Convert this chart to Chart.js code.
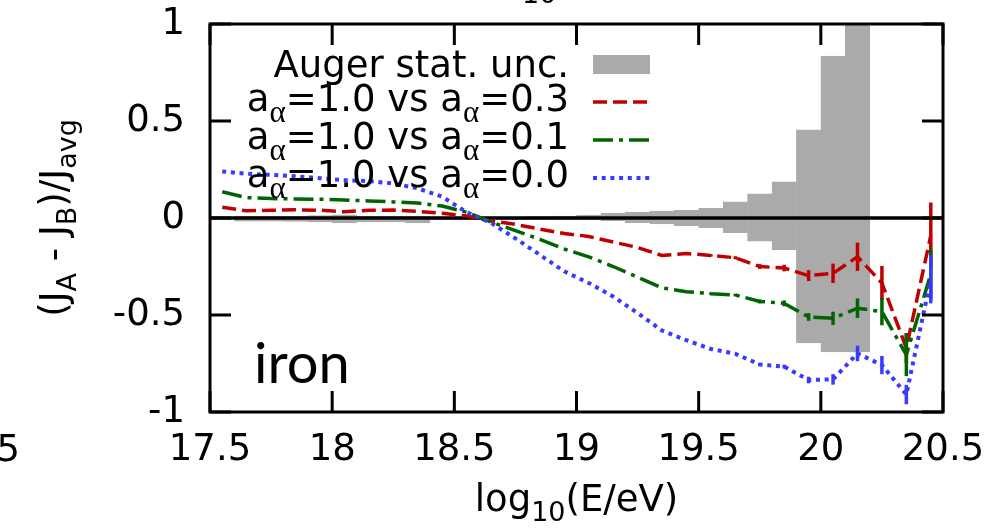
<!DOCTYPE html>
<html>
<head>
<meta charset="utf-8">
<script src="https://cdn.jsdelivr.net/npm/chart.js@4"></script>
<style>
html,body{margin:0;padding:0;background:#fff;}
#c{display:block;}
</style>
</head>
<body>
<canvas id="c" width="996" height="530"></canvas>
<script>
// ---- data ----
const energies = [17.55,17.65,17.75,17.85,17.95,18.05,18.15,18.25,18.35,18.45,
                  18.55,18.65,18.75,18.85,18.95,19.05,19.15,19.25,19.35,19.45,
                  19.55,19.65,19.75,19.85,19.95,20.05,20.15,20.25,20.35,20.45];
const diff03 = [0.055,0.037,0.040,0.042,0.040,0.032,0.040,0.041,0.034,0.024,
                0.010,-0.015,-0.033,-0.057,-0.080,-0.095,-0.124,-0.152,-0.193,-0.183,
                -0.193,-0.205,-0.250,-0.258,-0.297,-0.285,-0.200,-0.335,-0.670,-0.090];
const err03  = [0,0,0,0,0,0,0,0,0,0, 0,0,0,0,0,0,0,0,0,0,
                0.006,0.008,0.012,0.017,0.028,0.050,0.073,0.088,0.077,0.170];
const diff01 = [0.135,0.105,0.100,0.098,0.097,0.093,0.088,0.083,0.077,0.062,
                0.030,-0.020,-0.065,-0.110,-0.160,-0.200,-0.250,-0.305,-0.360,-0.380,
                -0.390,-0.397,-0.430,-0.440,-0.510,-0.517,-0.465,-0.483,-0.705,-0.289];
const err01  = [0,0,0,0,0,0,0,0,0,0, 0,0,0,0,0,0,0,0,0,0,
                0.005,0.007,0.010,0.015,0.020,0.034,0.050,0.070,0.110,0.130];
const diff00 = [0.240,0.228,0.222,0.215,0.205,0.195,0.190,0.178,0.153,0.110,
                0.030,-0.025,-0.105,-0.190,-0.275,-0.335,-0.405,-0.490,-0.580,-0.630,
                -0.675,-0.700,-0.755,-0.766,-0.835,-0.832,-0.698,-0.758,-0.910,-0.315];
const err00  = [0,0,0,0,0,0,0,0,0,0, 0,0,0,0,0,0,0,0,0,0,
                0,0,0.008,0.010,0.017,0.027,0.040,0.047,0.050,0.125];
// Auger statistical uncertainty band (bins of 0.1 in log10 E)
const augerBins = [17.55,17.65,17.75,17.85,17.95,18.05,18.15,18.25,18.35,18.45,
                   18.55,18.65,18.75,18.85,18.95,19.05,19.15,19.25,19.35,19.45,
                   19.55,19.65,19.75,19.85,19.95,20.05,20.15];
const augerHigh = [0.004,0.010,0.010,0.010,0.012,0.016,0.010,0.010,0.010,0.006,
                   0.006,0.006,0.006,0.008,0.010,0.015,0.025,0.030,0.036,0.040,
                   0.050,0.083,0.124,0.186,0.454,0.835,1.500];
const augerLow  = [-0.004,-0.016,-0.016,-0.018,-0.020,-0.026,-0.020,-0.020,-0.025,-0.008,
                   -0.008,-0.008,-0.008,-0.008,-0.010,-0.010,-0.015,-0.024,-0.031,-0.041,
                   -0.050,-0.076,-0.119,-0.165,-0.644,-0.690,-0.690];
const xTickValues = [17.5,18,18.5,19,19.5,20,20.5];
const yTickValues = [-1,-0.5,0,0.5,1];
const legendLabels = [
  [["Auger stat. unc.",0]],
  [["a",0],["α",1],["=1.0 vs a",0],["α",1],["=0.3",0]],
  [["a",0],["α",1],["=1.0 vs a",0],["α",1],["=0.1",0]],
  [["a",0],["α",1],["=1.0 vs a",0],["α",1],["=0.0",0]]
];
const panelLabel = "iron";

// ---- styles ----
const RED = '#c00000', GREEN = '#006400', BLUE = '#3a3aff', GRAY = '#aaaaaa';
const FONT = 'DejaVu Sans';
const series = [
  {label:'a=1.0 vs a=0.3', y:diff03, e:err03, color:RED,   dash:[14,6], width:3.5},
  {label:'a=1.0 vs a=0.1', y:diff01, e:err01, color:GREEN, dash:[20,6,4,6], width:3.5},
  {label:'a=1.0 vs a=0.0', y:diff00, e:err00, color:BLUE,  dash:[4,4.7], width:4}
];

Chart.defaults.font.family = FONT;
Chart.defaults.color = '#000';

const datasets = [{
  type:'bar', label:'Auger stat. unc.',
  data: augerBins.map((x,i)=>({x:x, y:[augerLow[i], augerHigh[i]]})),
  backgroundColor: GRAY, borderColor: GRAY, borderWidth: 0.8, borderSkipped:false,
  barPercentage:1.0, categoryPercentage:1.0, order:10
}];
series.forEach((s,k)=>{
  datasets.push({
    type:'line', label:s.label,
    data: energies.map((x,i)=>({x:x, y:s.y[i]})),
    borderColor:s.color, borderWidth:s.width, borderDash:s.dash, borderCapStyle:'butt',
    pointRadius:0, tension:0, fill:false, order:3-k
  });
});

function drawRich(ctx, parts, xRight, baseline, size, subSize, subDrop){
  let w = 0;
  const fonts = parts.map(p => p[1] ? subSize+'px "Liberation Serif"' : size+'px "'+FONT+'"');
  parts.forEach((p,i)=>{ ctx.font = fonts[i]; w += ctx.measureText(p[0]).width; });
  let x = xRight - w;
  ctx.textAlign='left'; ctx.textBaseline='alphabetic';
  parts.forEach((p,i)=>{
    ctx.font = fonts[i];
    ctx.fillText(p[0], x, baseline + (p[1]?subDrop:0));
    x += ctx.measureText(p[0]).width;
  });
}

const decor = {
  id:'decor',
  afterDatasetDraw(chart, args){
    if (args.index !== 0) return;
    const {ctx, chartArea:a, scales:{y}} = chart;
    ctx.save();
    ctx.strokeStyle='#000'; ctx.lineWidth=3.5;
    const y0 = y.getPixelForValue(0);
    ctx.beginPath(); ctx.moveTo(a.left,y0); ctx.lineTo(a.right,y0); ctx.stroke();
    ctx.restore();
  },
  afterDatasetsDraw(chart){
    const {ctx, chartArea:a, scales:{x,y}} = chart;
    ctx.save();
    ctx.beginPath(); ctx.rect(a.left,a.top,a.right-a.left,a.bottom-a.top); ctx.clip();
    ctx.setLineDash([]); ctx.lineCap='butt';
    series.forEach(s=>{
      ctx.strokeStyle=s.color; ctx.lineWidth=3.5;
      energies.forEach((e,i)=>{
        if (!s.e[i]) return;
        const px = x.getPixelForValue(e);
        ctx.beginPath();
        ctx.moveTo(px, y.getPixelForValue(s.y[i]-s.e[i]));
        ctx.lineTo(px, y.getPixelForValue(s.y[i]+s.e[i]));
        ctx.stroke();
      });
    });
    ctx.restore();
  },
  afterDraw(chart){
    const {ctx, chartArea:a, scales:{x,y}} = chart;
    ctx.save();
    // frame
    ctx.strokeStyle='#000'; ctx.lineWidth=3; ctx.setLineDash([]);
    ctx.strokeRect(a.left,a.top,a.right-a.left,a.bottom-a.top);
    // inward ticks, mirrored
    const TL = 21;
    ctx.beginPath();
    xTickValues.forEach(v=>{
      const px = x.getPixelForValue(v);
      ctx.moveTo(px,a.bottom); ctx.lineTo(px,a.bottom-TL);
      ctx.moveTo(px,a.top); ctx.lineTo(px,a.top+TL);
    });
    yTickValues.forEach(v=>{
      const py = y.getPixelForValue(v);
      ctx.moveTo(a.left,py); ctx.lineTo(a.left+TL,py);
      ctx.moveTo(a.right,py); ctx.lineTo(a.right-TL,py);
    });
    ctx.stroke();

    // legend
    const sx0 = 593, sx1 = 650;
    const rows = [64.5, 102, 140, 178];
    ctx.fillStyle='#000';
    drawRich(ctx, legendLabels[0], 569, 77, 37, 31, 11);
    for (let r=1;r<4;r++) drawRich(ctx, legendLabels[r], 569, rows[r]+9, 37, 31, 11);
    ctx.fillStyle=GRAY; ctx.fillRect(sx0, 55, sx1-sx0, 19);
    series.forEach((s,k)=>{
      ctx.strokeStyle=s.color; ctx.lineWidth=s.width; ctx.setLineDash(s.dash); ctx.lineCap='butt';
      ctx.beginPath(); ctx.moveTo(sx0, rows[k+1]); ctx.lineTo(sx1, rows[k+1]); ctx.stroke();
    });
    ctx.setLineDash([]);

    // panel label
    ctx.fillStyle='#000';
    ctx.font='56px Lato'; ctx.textAlign='left'; ctx.textBaseline='alphabetic';
    ctx.fillText(panelLabel, 254, 383);

    // y title (rotated, with subscripts)
    ctx.save();
    ctx.translate(66, 218); ctx.rotate(-Math.PI/2);
    const yparts = [["(J",0],["A",1],[" - J",0],["B",1],[")/J",0],["avg",1]];
    let w=0;
    yparts.forEach(p=>{ ctx.font=(p[1]?27:37)+'px "'+FONT+'"'; w+=ctx.measureText(p[0]).width; });
    let cx=-w/2;
    yparts.forEach(p=>{ ctx.font=(p[1]?27:37)+'px "'+FONT+'"'; ctx.fillText(p[0], cx, p[1]?10:0); cx+=ctx.measureText(p[0]).width; });
    ctx.restore();

    // x title
    const xparts = [["log",0],["10",1],["(E/eV)",0]];
    w=0;
    xparts.forEach(p=>{ ctx.font=(p[1]?27:37)+'px "'+FONT+'"'; w+=ctx.measureText(p[0]).width; });
    cx = (a.left+a.right)/2 - w/2;
    xparts.forEach(p=>{ ctx.font=(p[1]?27:37)+'px "'+FONT+'"'; ctx.fillText(p[0], cx, p[1]?521:511); cx+=ctx.measureText(p[0]).width; });

    // fragments of neighbouring panels cut by the crop
    ctx.font='37px "'+FONT+'"'; ctx.textAlign='right'; ctx.textBaseline='middle';
    ctx.fillText("20.5", 20, 451);
    ctx.font='27px "'+FONT+'"'; ctx.textAlign='left'; ctx.textBaseline='alphabetic';
    ctx.fillText("10", 522, 3);
    ctx.restore();
  }
};

new Chart(document.getElementById('c'), {
  type:'line',
  data:{datasets},
  plugins:[decor],
  options:{
    responsive:false, animation:false, devicePixelRatio:1,
    layout:{padding:{top:24,right:53,left:0,bottom:0}},
    plugins:{legend:{display:false}, tooltip:{enabled:false}},
    scales:{
      x:{type:'linear', min:17.5, max:20.5, offset:false,
         grid:{display:false, drawTicks:false, tickLength:0}, border:{display:false},
         ticks:{stepSize:0.5, padding:16, font:{size:37}, maxRotation:0, autoSkip:false,
                callback:v=>String(v)},
         afterFit:s=>{s.height=118; s.paddingLeft=0; s.paddingRight=0;}},
      y:{type:'linear', min:-1, max:1,
         grid:{display:false, drawTicks:false, tickLength:0}, border:{display:false},
         ticks:{stepSize:0.5, padding:25, font:{size:37}, callback:v=>String(v)},
         afterFit:s=>{s.width=210; s.paddingTop=0; s.paddingBottom=0;}}
    }
  }
});
</script>
</body>
</html>
